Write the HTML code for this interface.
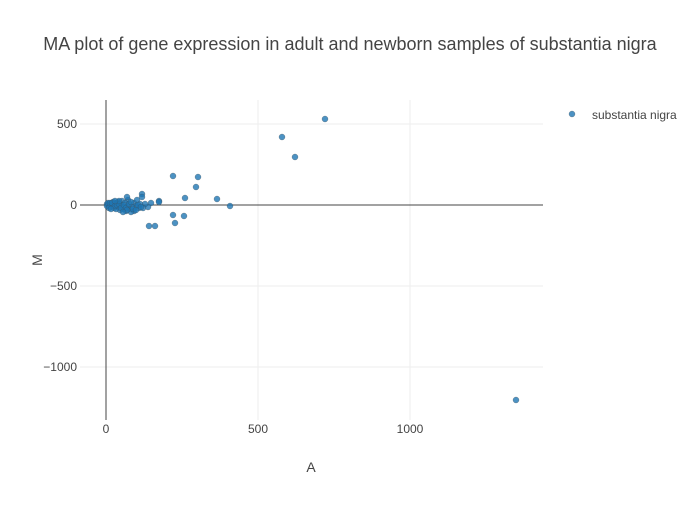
<!DOCTYPE html>
<html><head><meta charset="utf-8"><style>
body{margin:0;background:#fff;font-family:"Liberation Sans",sans-serif;}
</style></head><body>
<svg width="700" height="500" xmlns="http://www.w3.org/2000/svg" font-family="Liberation Sans, sans-serif">
<rect width="700" height="500" fill="#fff"/>
<g stroke="#eee" stroke-width="1">
<line x1="258" y1="100" x2="258" y2="420"/>
<line x1="410" y1="100" x2="410" y2="420"/>
<line x1="80" y1="124" x2="543" y2="124"/>
<line x1="80" y1="286" x2="543" y2="286"/>
<line x1="80" y1="367" x2="543" y2="367"/>
</g>
<line x1="106" y1="100" x2="106" y2="420" stroke="#444" stroke-width="1"/>
<line x1="80" y1="205" x2="543" y2="205" stroke="#444" stroke-width="1"/>
<g fill="#444" font-size="12" text-anchor="end">
<text x="77" y="128">500</text>
<text x="77" y="209">0</text>
<text x="77" y="290">−500</text>
<text x="77" y="371">−1000</text>
</g>
<g fill="#444" font-size="12" text-anchor="middle">
<text x="106" y="433">0</text>
<text x="258" y="433">500</text>
<text x="410" y="433">1000</text>
</g>
<text x="311" y="472" font-size="14" fill="#444" text-anchor="middle">A</text>
<text x="42" y="260" font-size="14" fill="#444" text-anchor="middle" transform="rotate(-90 42 260)">M</text>
<text x="350" y="50" font-size="18" fill="#444" text-anchor="middle">MA plot of gene expression in adult and newborn samples of substantia nigra</text>
<g fill="#1f77b4" fill-opacity="0.8" stroke="#444" stroke-opacity="0.5" stroke-width="0.5">
<circle cx="282" cy="137" r="3"/><circle cx="295" cy="157" r="3"/><circle cx="325" cy="119" r="3"/><circle cx="516" cy="400" r="3"/>
<circle cx="173" cy="176" r="3"/><circle cx="198" cy="177" r="3"/><circle cx="196" cy="187" r="3"/><circle cx="185" cy="198" r="3"/>
<circle cx="217" cy="199" r="3"/><circle cx="230" cy="206" r="3"/><circle cx="173" cy="215" r="3"/><circle cx="184" cy="216" r="3"/>
<circle cx="175" cy="223" r="3"/><circle cx="149" cy="226" r="3"/><circle cx="155" cy="226" r="3"/><circle cx="159" cy="201" r="3"/>
<circle cx="159" cy="202" r="3"/><circle cx="151" cy="203" r="3"/><circle cx="142" cy="194" r="3"/><circle cx="142" cy="197" r="3"/>
<circle cx="148" cy="207" r="3"/><circle cx="145" cy="204" r="3"/><circle cx="139" cy="208" r="3"/><circle cx="134" cy="211" r="3"/>
<circle cx="130" cy="209" r="3"/><circle cx="128" cy="200" r="3"/><circle cx="134" cy="203" r="3"/><circle cx="136" cy="206" r="3"/>
<circle cx="131" cy="212" r="3"/><circle cx="126" cy="211" r="3"/><circle cx="123" cy="209" r="3"/><circle cx="121" cy="205" r="3"/>
<circle cx="118" cy="207" r="3"/><circle cx="116" cy="203" r="3"/><circle cx="113" cy="205" r="3"/><circle cx="111" cy="204" r="3"/>
<circle cx="109" cy="205" r="3"/><circle cx="107" cy="204" r="3"/><circle cx="107" cy="206" r="3"/><circle cx="110" cy="207" r="3"/>
<circle cx="114" cy="208" r="3"/><circle cx="118" cy="202" r="3"/><circle cx="122" cy="201" r="3"/><circle cx="125" cy="203" r="3"/>
<circle cx="128" cy="206" r="3"/><circle cx="120" cy="210" r="3"/><circle cx="116" cy="209" r="3"/><circle cx="113" cy="202" r="3"/>
<circle cx="143" cy="208" r="3"/><circle cx="137" cy="200" r="3"/><circle cx="127" cy="197" r="3"/><circle cx="132" cy="207" r="3"/>
<circle cx="140" cy="204" r="3"/><circle cx="124" cy="207" r="3"/><circle cx="112" cy="206" r="3"/><circle cx="108" cy="203" r="3"/>
<circle cx="110" cy="203" r="3"/><circle cx="112" cy="203" r="3"/><circle cx="115" cy="206" r="3"/><circle cx="117" cy="205" r="3"/>
<circle cx="119" cy="204" r="3"/><circle cx="121" cy="208" r="3"/><circle cx="124" cy="205" r="3"/><circle cx="126" cy="208" r="3"/>
<circle cx="129" cy="204" r="3"/><circle cx="131" cy="202" r="3"/><circle cx="133" cy="209" r="3"/><circle cx="136" cy="210" r="3"/>
<circle cx="138" cy="205" r="3"/><circle cx="141" cy="207" r="3"/><circle cx="127" cy="210" r="3"/><circle cx="123" cy="212" r="3"/>
<circle cx="119" cy="201" r="3"/><circle cx="115" cy="201" r="3"/><circle cx="109" cy="208" r="3"/><circle cx="111" cy="209" r="3"/>
</g>
<circle cx="572" cy="114" r="3" fill="#1f77b4" fill-opacity="0.8" stroke="#444" stroke-opacity="0.5" stroke-width="0.5"/>
<text x="592" y="119" font-size="12" fill="#444">substantia nigra</text>
</svg>
</body></html>
